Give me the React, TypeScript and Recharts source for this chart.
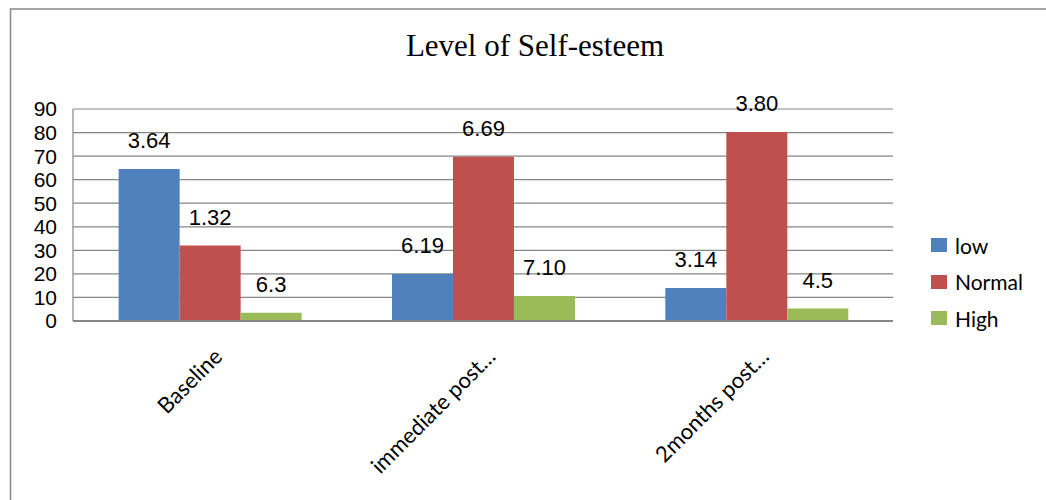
import React from 'react';
import { BarChart, Bar, XAxis, YAxis, CartesianGrid, LabelList } from 'recharts';

const categories = ['Baseline', 'immediate post…', '2months post…'];
const lowValues = [64.5, 20, 14];
const normalValues = [32, 69.7, 80.2];
const highValues = [3.5, 10.6, 5.3];
const lowLabels = ['3.64', '6.19', '3.14'];
const normalLabels = ['1.32', '6.69', '3.80'];
const highLabels = ['6.3', '7.10', '4.5'];
const seriesNames = ['low', 'Normal', 'High'];
const seriesColors = ['#4F81BD', '#C0504D', '#9BBB59'];
const yTicks = [0, 10, 20, 30, 40, 50, 60, 70, 80, 90];
const titleText = 'Level of Self-esteem';

const data = categories.map((c, i) => ({
  name: c,
  low: lowValues[i],
  Normal: normalValues[i],
  High: highValues[i],
  lowLabel: lowLabels[i],
  NormalLabel: normalLabels[i],
  HighLabel: highLabels[i],
}));

const ARIAL = '"Liberation Sans", Arial, sans-serif';
const CALIBRI = 'Lato, "Open Sans", sans-serif';

const DataLabel = (props: any) => {
  const { x, y, width, value } = props;
  return (
    <text x={x + width / 2} y={y - 21} textAnchor="middle" fontFamily={ARIAL} fontSize={22} fill="#000">
      {value}
    </text>
  );
};

const XTick = (props: any) => {
  const { x, y, payload } = props;
  const ax = x + 14;
  const ay = y + 37;
  return (
    <text
      x={ax}
      y={ay}
      textAnchor="end"
      transform={`rotate(-45, ${ax}, ${ay})`}
      fontFamily={CALIBRI}
      fontSize={22}
      fill="#000"
    >
      {payload.value}
    </text>
  );
};

export default function App() {
  return (
    <div style={{ position: 'absolute', left: 0, top: 0, width: 1046, height: 500, background: '#fff', overflow: 'hidden' }}>
      <BarChart
        width={1046}
        height={500}
        data={data}
        margin={{ top: 109, right: 153, left: 13, bottom: 139 }}
        barCategoryGap="16.7%"
        barGap={0}
      >
        <CartesianGrid vertical={false} stroke="#868686" strokeWidth={1.2} />
        <XAxis
          dataKey="name"
          height={40}
          tickLine={false}
          tickSize={0}
          tickMargin={0}
          axisLine={{ stroke: '#868686', strokeWidth: 2 }}
          tick={<XTick />}
          interval={0}
        />
        <YAxis
          width={60}
          domain={[0, 90]}
          ticks={yTicks}
          interval={0}
          tickLine={false}
          tickSize={0}
          tickMargin={16}
          axisLine={{ stroke: '#868686', strokeWidth: 1.2 }}
          tick={{ fontFamily: ARIAL, fontSize: 21, fill: '#000' }}
        />
        <Bar dataKey="low" fill={seriesColors[0]} isAnimationActive={false}>
          <LabelList dataKey="lowLabel" content={<DataLabel />} />
        </Bar>
        <Bar dataKey="Normal" fill={seriesColors[1]} isAnimationActive={false}>
          <LabelList dataKey="NormalLabel" content={<DataLabel />} />
        </Bar>
        <Bar dataKey="High" fill={seriesColors[2]} isAnimationActive={false}>
          <LabelList dataKey="HighLabel" content={<DataLabel />} />
        </Bar>
      </BarChart>
      <svg width={1046} height={500} style={{ position: 'absolute', left: 0, top: 0, pointerEvents: 'none' }}>
        <rect x={10.5} y={9} width={1100} height={600} fill="none" stroke="#898989" strokeWidth={1.5} />
        <text x={535} y={56} textAnchor="middle" fontFamily='"Liberation Serif", "Times New Roman", serif' fontSize={31} fill="#000">
          {titleText}
        </text>
      </svg>
      <div style={{ position: 'absolute', left: 931, top: 227, fontFamily: CALIBRI, fontSize: 21, color: '#000' }}>
        {seriesNames.map((n, i) => (
          <div key={n} style={{ display: 'flex', alignItems: 'center', height: 36.5 }}>
            <span style={{ display: 'inline-block', width: 16, height: 14, background: seriesColors[i], marginRight: 8 }} />
            <span>{n}</span>
          </div>
        ))}
      </div>
    </div>
  );
}
